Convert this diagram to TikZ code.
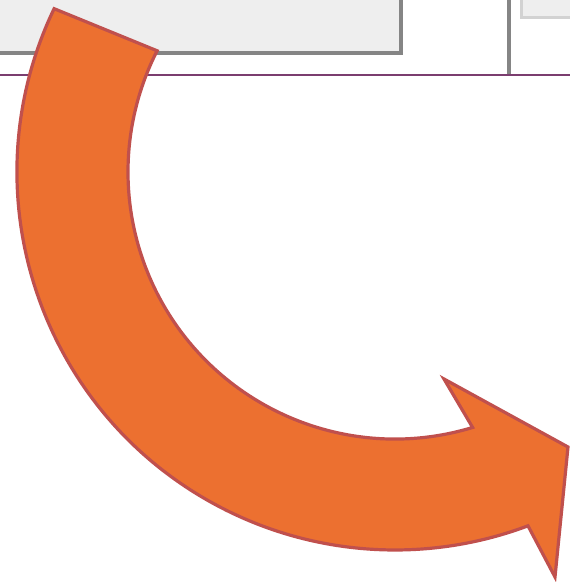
\documentclass[tikz,border=0pt]{standalone}
\usepackage{xcolor}
\usepackage{tikz}
\usetikzlibrary{calc}
\definecolor{cArrow}{HTML}{EC7030}
\definecolor{cEdge}{HTML}{C0504D}
\definecolor{cRule}{HTML}{7B3D6F}
\definecolor{cPanel}{HTML}{EEEEEE}
\definecolor{cShade}{HTML}{858585}
\definecolor{cLight}{HTML}{D2D2D2}
\tikzset{bigarrow/.style={fill=cArrow,draw=cEdge,line width=3.2pt,line join=miter},
  panel/.style={fill=cPanel,draw=#1,line width=4pt}}

\begin{document}
\begin{tikzpicture}[x=1pt,y=1pt]
  \useasboundingbox (0,0) rectangle (570,582);
  \clip (0,0) rectangle (570,582);
  % panels above the rule
  \draw[panel=cShade] (-10,529) rectangle (401,600);
  \draw[panel=cLight,line width=3pt] (521,564) rectangle (590,600);
  \draw[cShade,line width=3.5pt] (509,507) -- (509,590);
  \draw[cRule,line width=2.2pt] (-5,507) -- (575,507);
  % curved arrow
  \coordinate (ctr) at (395,410);
  \coordinate (barbL) at (555,5);
  \coordinate (tip) at (568,135);
  \coordinate (barbU) at (444,203);
  \draw[bigarrow] ($(ctr)+(154.4:378)$) arc[start angle=154.4,end angle=290.6,radius=378]
    -- (barbL) -- (tip) -- (barbU) -- ($(ctr)+(286.9:267)$)
    arc[start angle=286.9,end angle=153,radius=267] -- cycle;
\end{tikzpicture}
\end{document}
